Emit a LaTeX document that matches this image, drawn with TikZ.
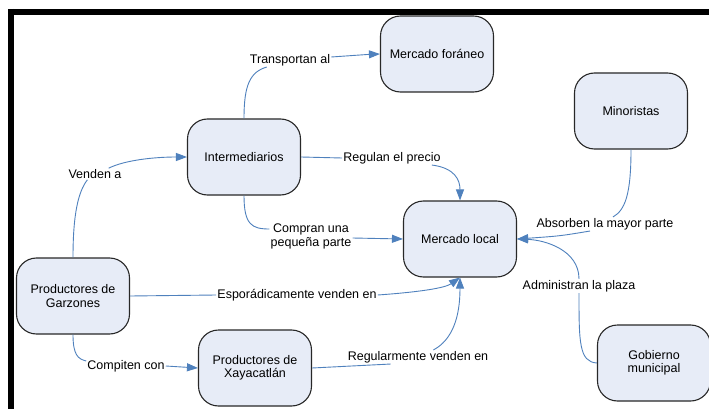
\documentclass[tikz,border=0pt]{standalone}
\usepackage{fontspec}
\setmainfont{Liberation Sans}
\usetikzlibrary{arrows.meta}
\definecolor{edgeblue}{RGB}{79,129,189}
\definecolor{boxfill}{RGB}{231,236,247}
\definecolor{boxline}{RGB}{40,40,40}
\begin{document}
\begin{tikzpicture}[x=1pt,y=-1pt,
  box/.style={draw=boxline, fill=boxfill, line width=1.1pt, rounded corners=20pt,
    minimum width=113pt, minimum height=76pt, align=center, inner sep=2pt,
    font=\fontsize{12.5}{13.5}\selectfont},
  lab/.style={inner sep=1pt, align=center, font=\fontsize{12.5}{14}\selectfont},
  conn/.style={draw=edgeblue, line width=0.9pt},
  arr/.style={conn, -{Triangle[length=11pt,width=8pt]}, shorten >=0pt}]
\useasboundingbox (0,0) rectangle (709,409);
\fill[white] (0,0) rectangle (709,409);
% frame
\draw[line width=6pt, line cap=butt] (8,12) -- (709,12);
\draw[line width=6pt, line cap=butt] (11,9) -- (11,409);
% nodes
\node[box] (foraneo) at (437,54) {Mercado foráneo};
\node[box] (inter) at (244,157) {Intermediarios};
\node[box] (mino) at (631,111) {Minoristas};
\node[box] (local) at (460,239) {Mercado local};
\node[box] (garz) at (73,296) {Productores de\\Garzones};
\node[box] (xaya) at (255,368) {Productores de\\Xayacatlán};
\node[box] (gob) at (654,363) {Gobierno\\municipal};
% labels
\node[lab] (l1) at (290,60) {Transportan al};
\node[lab] (l2) at (95,174) {Venden a};
\node[lab] (l3) at (392,158) {Regulan el precio};
\node[lab] (l4) at (311,236) {Compran una\\pequeña parte};
\node[lab] (l5) at (605,224) {Absorben la mayor parte};
\node[lab] (l6) at (579,286) {Administran la plaza};
\node[lab] (l7) at (297,295) {Esporádicamente venden en};
\node[lab] (l8) at (418,357) {Regularmente venden en};
\node[lab] (l9) at (126,366) {Compiten con};
% connectors
\draw[conn] (inter.north) .. controls (244,85) and (250,72) .. ([xshift=18pt]l1.south west);
\draw[arr] ([yshift=3pt]l1.east) .. controls (350,55) .. (foraneo.west);

\draw[conn] (garz.north) .. controls (73,215) and (78,192) .. ([xshift=20pt]l2.south west);
\draw[arr] ([xshift=-14pt]l2.north east) .. controls (125,160) and (155,157) .. (inter.west);

\draw[conn] (inter.east) -- (l3.west);
\draw[arr] ([xshift=-10pt]l3.south east) .. controls (455,168) and (460,180) .. (local.north);

\draw[conn] (inter.south) .. controls (244,225) and (252,229) .. ([yshift=7pt]l4.west);
\draw[arr] ([yshift=-2pt]l4.east) -- (local.west);

\draw[conn] (mino.south) .. controls (631,195) and (625,210) .. ([xshift=8pt]l5.north);
\draw[arr] ([xshift=-15pt]l5.south) .. controls (560,236) .. (local.east);

\draw[conn] (gob.west) .. controls (579,362) and (579,342) .. (l6.south);
\draw[arr] (l6.north) .. controls (579,250) and (545,240) .. (local.east);

\draw[conn] (garz.east) -- (l7.west);
\draw[arr] (l7.east) .. controls (420,292) and (445,288) .. (local.south);

\draw[conn] (xaya.east) -- ([xshift=44pt]l8.south west);
\draw[arr] ([xshift=-56pt]l8.north east) .. controls (452,340) and (460,318) .. (local.south);

\draw[conn] (garz.south) .. controls (73,355) and (78,359) .. ([yshift=5pt]l9.west);
\draw[arr] (l9.east) -- (xaya.west);
\end{tikzpicture}
\end{document}
